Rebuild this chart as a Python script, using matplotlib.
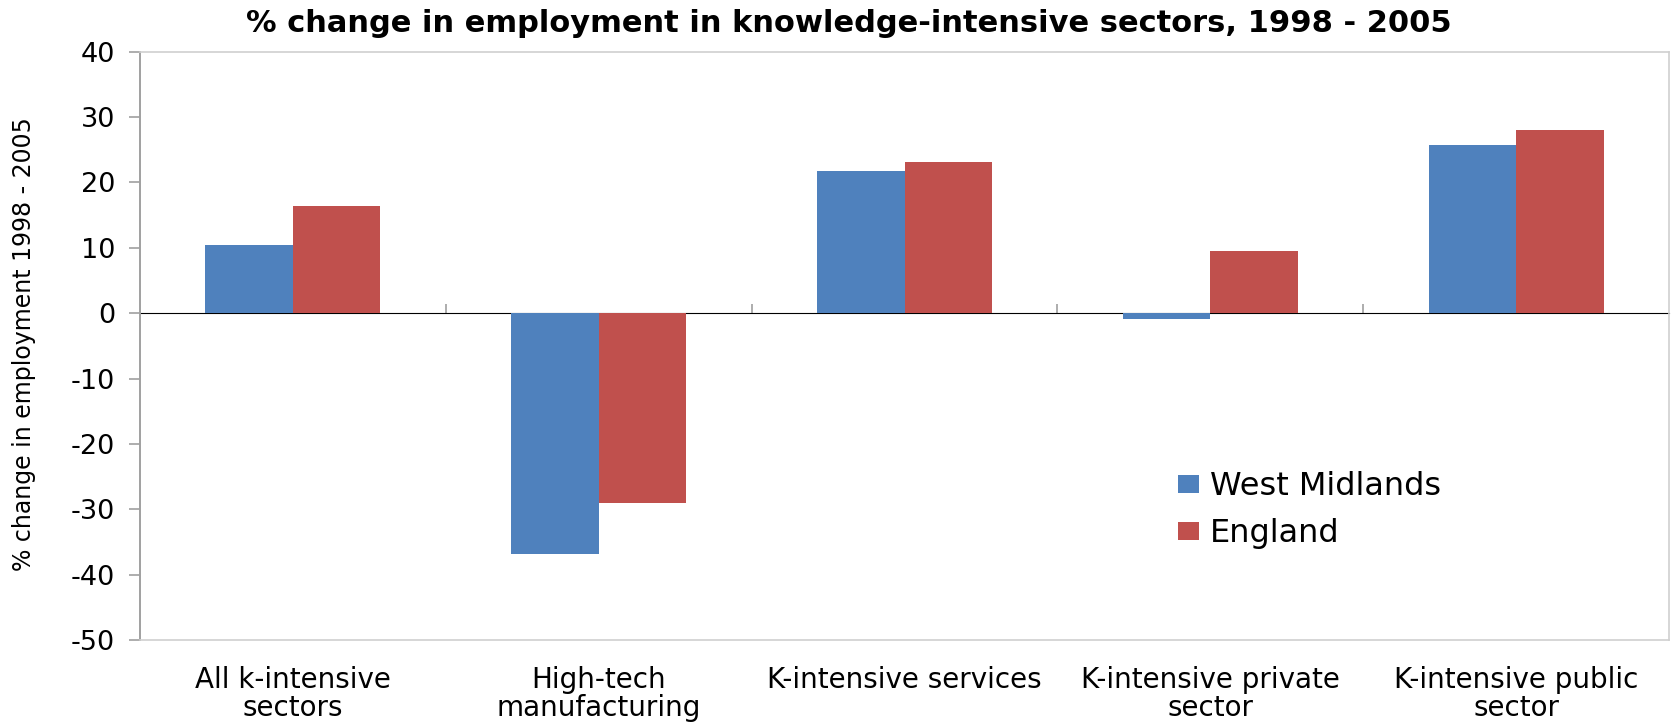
import matplotlib.pyplot as plt
import numpy as np

plt.rcParams['font.family'] = ['DejaVu Sans']
plt.rcParams['axes.unicode_minus'] = False

categories = ['All k-intensive\nsectors', 'High-tech\nmanufacturing', 'K-intensive services',
              'K-intensive private\nsector', 'K-intensive public\nsector']
west_midlands = [10.5, -36.9, 21.8, -0.9, 25.8]
england = [16.4, -29.1, 23.1, 9.5, 28.0]

blue = '#4F81BD'
red = '#C0504D'
axis_grey = '#A0A0A0'
box_grey = '#CFCFCF'

fig = plt.figure(figsize=(16.71, 7.24), dpi=100)
ax = fig.add_axes([0.0838, 0.116, 0.915, 0.8126])

x = np.arange(len(categories))
w = 0.286
ax.bar(x - w / 2, west_midlands, w, color=blue, label='West Midlands')
ax.bar(x + w / 2, england, w, color=red, label='England')

ax.set_xlim(-0.5, len(categories) - 0.5)
ax.set_ylim(-50, 40)
ax.set_yticks(range(-50, 41, 10))
ax.tick_params(axis='y', direction='out', length=8, width=1.2, color=axis_grey,
               labelsize=19.5, pad=10)
ax.set_xticks(x, categories)
ax.tick_params(axis='x', length=0, labelsize=20, pad=19)
for lbl in ax.get_xticklabels():
    lbl.set_linespacing(1.0)

for s in ['top', 'right', 'bottom']:
    ax.spines[s].set_color(box_grey)
    ax.spines[s].set_linewidth(1.2)
ax.spines['left'].set_color(axis_grey)
ax.spines['left'].set_linewidth(1.4)

# zero axis line with category boundary ticks
zero = ax.secondary_xaxis(50 / 90)
zero.set_xticks(np.arange(0.5, len(categories) - 0.5, 1.0))
zero.set_xticklabels([])
zero.tick_params(direction='out', length=6.5, width=1.2, color=axis_grey)
zero.spines['bottom'].set_color(axis_grey)
zero.spines['bottom'].set_linewidth(1.4)

ax.set_ylabel('% change in employment 1998 - 2005', fontsize=17)
ax.yaxis.set_label_coords(0.0215, 0.525, transform=fig.transFigure)

fig.text(0.508, 0.956, '% change in employment in knowledge-intensive sectors, 1998 - 2005',
         fontsize=22, fontweight='bold', ha='center', va='baseline')

ax.legend(loc='center left', bbox_to_anchor=(0.705, 0.2955), bbox_transform=fig.transFigure,
          frameon=False, fontsize=23, handlelength=0.65, handleheight=0.5,
          handletextpad=0.35, labelspacing=0.5, borderpad=0, borderaxespad=0)

fig.savefig('out.png', dpi=100)
